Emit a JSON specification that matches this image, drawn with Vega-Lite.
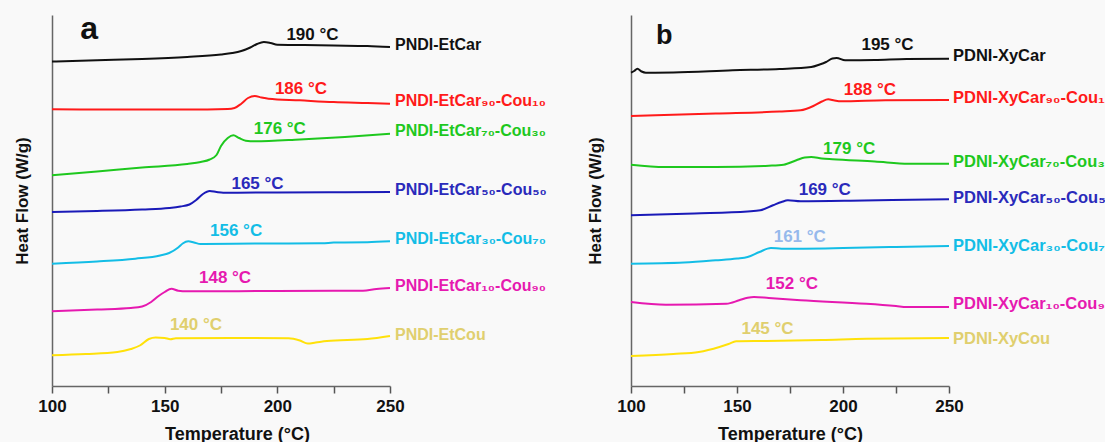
{
  "$schema": "https://vega.github.io/schema/vega-lite/v6.json",
  "background": "#f9f9f9",
  "padding": {"left": 13, "top": 13, "right": 0, "bottom": 0},
  "bounds": "flush",
  "spacing": 241,
  "config": {
    "font": "Liberation Sans",
    "view": {"stroke": null},
    "axis": {"grid": false, "domainColor": "#666666", "domainWidth": 1.5, "tickColor": "#555555", "tickWidth": 1.5, "labelFont": "Liberation Sans", "titleFont": "Liberation Sans", "labelFontWeight": "bold", "titleFontWeight": "bold", "labelColor": "#111111", "titleColor": "#111111", "labelFlush": false}
  },
  "datasets": {
    "curvesA": [
      {"s": "0", "T": 100, "hf": 324.5}, {"s": "0", "T": 120, "hf": 325.8}, {"s": "0", "T": 140, "hf": 327}, {"s": "0", "T": 160, "hf": 329}, {"s": "0", "T": 175, "hf": 331.5}, {"s": "0", "T": 180, "hf": 333}, {"s": "0", "T": 184, "hf": 335}, {"s": "0", "T": 188, "hf": 338.5}, {"s": "0", "T": 191, "hf": 342}, {"s": "0", "T": 194, "hf": 344}, {"s": "0", "T": 197, "hf": 343}, {"s": "0", "T": 200, "hf": 341.3}, {"s": "0", "T": 212, "hf": 341}, {"s": "0", "T": 225, "hf": 340.5}, {"s": "0", "T": 240, "hf": 340}, {"s": "0", "T": 250, "hf": 339},
      {"s": "10", "T": 100, "hf": 276.7}, {"s": "10", "T": 130, "hf": 276.5}, {"s": "10", "T": 160, "hf": 276.5}, {"s": "10", "T": 178, "hf": 277}, {"s": "10", "T": 181, "hf": 278}, {"s": "10", "T": 184, "hf": 282.3}, {"s": "10", "T": 187, "hf": 288}, {"s": "10", "T": 190, "hf": 290}, {"s": "10", "T": 193, "hf": 288.5}, {"s": "10", "T": 196, "hf": 287.3}, {"s": "10", "T": 210, "hf": 285.7}, {"s": "10", "T": 225, "hf": 284}, {"s": "10", "T": 240, "hf": 283}, {"s": "10", "T": 250, "hf": 282.3},
      {"s": "30", "T": 100, "hf": 210.7}, {"s": "30", "T": 120, "hf": 214.5}, {"s": "30", "T": 140, "hf": 218.5}, {"s": "30", "T": 160, "hf": 222}, {"s": "30", "T": 166, "hf": 224}, {"s": "30", "T": 170, "hf": 226.5}, {"s": "30", "T": 173, "hf": 231}, {"s": "30", "T": 175, "hf": 240}, {"s": "30", "T": 178, "hf": 248}, {"s": "30", "T": 180.5, "hf": 250.7}, {"s": "30", "T": 183, "hf": 248}, {"s": "30", "T": 186, "hf": 245.3}, {"s": "30", "T": 190, "hf": 244.7}, {"s": "30", "T": 210, "hf": 246.5}, {"s": "30", "T": 230, "hf": 249}, {"s": "30", "T": 250, "hf": 252.3},
      {"s": "50", "T": 100, "hf": 174}, {"s": "50", "T": 120, "hf": 175}, {"s": "50", "T": 140, "hf": 176.5}, {"s": "50", "T": 152, "hf": 178}, {"s": "50", "T": 157, "hf": 179.5}, {"s": "50", "T": 161, "hf": 181.5}, {"s": "50", "T": 164, "hf": 186}, {"s": "50", "T": 167, "hf": 192}, {"s": "50", "T": 170, "hf": 195}, {"s": "50", "T": 173, "hf": 194}, {"s": "50", "T": 176, "hf": 193.3}, {"s": "50", "T": 200, "hf": 193.5}, {"s": "50", "T": 230, "hf": 193.7}, {"s": "50", "T": 250, "hf": 194},
      {"s": "70", "T": 100, "hf": 122.3}, {"s": "70", "T": 120, "hf": 124.5}, {"s": "70", "T": 137, "hf": 127.3}, {"s": "70", "T": 148, "hf": 130.5}, {"s": "70", "T": 152, "hf": 133}, {"s": "70", "T": 156, "hf": 138.5}, {"s": "70", "T": 158, "hf": 142.5}, {"s": "70", "T": 160.5, "hf": 144.7}, {"s": "70", "T": 163, "hf": 143.5}, {"s": "70", "T": 166, "hf": 142}, {"s": "70", "T": 190, "hf": 142.5}, {"s": "70", "T": 220, "hf": 142.7}, {"s": "70", "T": 225, "hf": 143.5}, {"s": "70", "T": 240, "hf": 143.8}, {"s": "70", "T": 250, "hf": 144.7},
      {"s": "90", "T": 100, "hf": 74.7}, {"s": "90", "T": 120, "hf": 76.5}, {"s": "90", "T": 135, "hf": 78}, {"s": "90", "T": 140, "hf": 79.5}, {"s": "90", "T": 144, "hf": 84}, {"s": "90", "T": 147, "hf": 89.5}, {"s": "90", "T": 150, "hf": 94}, {"s": "90", "T": 153, "hf": 97.3}, {"s": "90", "T": 156, "hf": 95.3}, {"s": "90", "T": 160, "hf": 94.7}, {"s": "90", "T": 200, "hf": 95}, {"s": "90", "T": 238, "hf": 95.3}, {"s": "90", "T": 244, "hf": 97}, {"s": "90", "T": 250, "hf": 98},
      {"s": "100", "T": 100, "hf": 30.7}, {"s": "100", "T": 115, "hf": 32}, {"s": "100", "T": 129, "hf": 34}, {"s": "100", "T": 135, "hf": 37}, {"s": "100", "T": 139, "hf": 40.5}, {"s": "100", "T": 143, "hf": 47}, {"s": "100", "T": 146, "hf": 48.5}, {"s": "100", "T": 150, "hf": 48}, {"s": "100", "T": 152.5, "hf": 46.8}, {"s": "100", "T": 155, "hf": 47.8}, {"s": "100", "T": 180, "hf": 48}, {"s": "100", "T": 205, "hf": 47.8}, {"s": "100", "T": 210, "hf": 45.5}, {"s": "100", "T": 213.5, "hf": 42.5}, {"s": "100", "T": 217, "hf": 43.5}, {"s": "100", "T": 222, "hf": 45}, {"s": "100", "T": 240, "hf": 47}, {"s": "100", "T": 250, "hf": 50}
    ],
    "namesA": [
      {"s": "0", "name": "PNDI-EtCar", "T": 250, "hf": 340.7},
      {"s": "10", "name": "PNDI-EtCar₉₀-Cou₁₀", "T": 250, "hf": 285},
      {"s": "30", "name": "PNDI-EtCar₇₀-Cou₃₀", "T": 250, "hf": 255.3},
      {"s": "50", "name": "PNDI-EtCar₅₀-Cou₅₀", "T": 250, "hf": 196.3},
      {"s": "70", "name": "PNDI-EtCar₃₀-Cou₇₀", "T": 250, "hf": 146.7},
      {"s": "90", "name": "PNDI-EtCar₁₀-Cou₉₀", "T": 250, "hf": 99.7},
      {"s": "100", "name": "PNDI-EtCou", "T": 250, "hf": 51.3}
    ],
    "tgA": [
      {"s": "0", "tg": "190 °C", "T": 215.6, "hf": 350.7},
      {"s": "10", "tg": "186 °C", "T": 210.5, "hf": 297.3},
      {"s": "30", "tg": "176 °C", "T": 201.1, "hf": 257.3},
      {"s": "50", "tg": "165 °C", "T": 191.2, "hf": 202.3},
      {"s": "70", "tg": "156 °C", "T": 181.7, "hf": 154.7},
      {"s": "90", "tg": "148 °C", "T": 176.8, "hf": 108},
      {"s": "100", "tg": "140 °C", "T": 163.9, "hf": 61.3}
    ],
    "curvesB": [
      {"s": "0", "T": 100, "hf": 313.3}, {"s": "0", "T": 101.5, "hf": 315}, {"s": "0", "T": 103, "hf": 317.3}, {"s": "0", "T": 105, "hf": 314.5}, {"s": "0", "T": 107, "hf": 313.3}, {"s": "0", "T": 120, "hf": 313.5}, {"s": "0", "T": 148, "hf": 315.7}, {"s": "0", "T": 170, "hf": 317}, {"s": "0", "T": 185, "hf": 319}, {"s": "0", "T": 189, "hf": 321.5}, {"s": "0", "T": 192, "hf": 324}, {"s": "0", "T": 195, "hf": 327.5}, {"s": "0", "T": 197, "hf": 328}, {"s": "0", "T": 201, "hf": 325.7}, {"s": "0", "T": 215, "hf": 326}, {"s": "0", "T": 230, "hf": 327}, {"s": "0", "T": 250, "hf": 327.3},
      {"s": "10", "T": 100, "hf": 270}, {"s": "10", "T": 140, "hf": 272.5}, {"s": "10", "T": 170, "hf": 274.5}, {"s": "10", "T": 180, "hf": 275.7}, {"s": "10", "T": 186, "hf": 280}, {"s": "10", "T": 190, "hf": 284.5}, {"s": "10", "T": 193, "hf": 286.7}, {"s": "10", "T": 196, "hf": 285.5}, {"s": "10", "T": 199, "hf": 284.7}, {"s": "10", "T": 220, "hf": 285.7}, {"s": "10", "T": 250, "hf": 286},
      {"s": "30", "T": 100, "hf": 221.3}, {"s": "30", "T": 116, "hf": 219}, {"s": "30", "T": 140, "hf": 219}, {"s": "30", "T": 165, "hf": 220.3}, {"s": "30", "T": 172, "hf": 221.3}, {"s": "30", "T": 178, "hf": 225.7}, {"s": "30", "T": 182, "hf": 228.5}, {"s": "30", "T": 185, "hf": 229}, {"s": "30", "T": 190, "hf": 227.5}, {"s": "30", "T": 195, "hf": 226.7}, {"s": "30", "T": 215, "hf": 224.5}, {"s": "30", "T": 231, "hf": 222.3}, {"s": "30", "T": 250, "hf": 222.3},
      {"s": "50", "T": 100, "hf": 170.7}, {"s": "50", "T": 130, "hf": 172.5}, {"s": "50", "T": 155, "hf": 174.5}, {"s": "50", "T": 161, "hf": 175.7}, {"s": "50", "T": 167, "hf": 180.7}, {"s": "50", "T": 171, "hf": 184}, {"s": "50", "T": 174, "hf": 185.7}, {"s": "50", "T": 180, "hf": 184.7}, {"s": "50", "T": 210, "hf": 185.5}, {"s": "50", "T": 250, "hf": 186.7},
      {"s": "70", "T": 100, "hf": 122.3}, {"s": "70", "T": 125, "hf": 123.5}, {"s": "70", "T": 140, "hf": 125.7}, {"s": "70", "T": 150, "hf": 127.5}, {"s": "70", "T": 155, "hf": 129}, {"s": "70", "T": 160.6, "hf": 134}, {"s": "70", "T": 166, "hf": 138}, {"s": "70", "T": 171, "hf": 137.3}, {"s": "70", "T": 200, "hf": 138}, {"s": "70", "T": 225, "hf": 139}, {"s": "70", "T": 250, "hf": 140},
      {"s": "90", "T": 100, "hf": 84}, {"s": "90", "T": 116.5, "hf": 81.3}, {"s": "90", "T": 145, "hf": 82.3}, {"s": "90", "T": 151, "hf": 85.7}, {"s": "90", "T": 155, "hf": 88.2}, {"s": "90", "T": 158, "hf": 89}, {"s": "90", "T": 165, "hf": 88}, {"s": "90", "T": 180, "hf": 85.7}, {"s": "90", "T": 211, "hf": 82.3}, {"s": "90", "T": 225, "hf": 80}, {"s": "90", "T": 230, "hf": 79}, {"s": "90", "T": 250, "hf": 79},
      {"s": "100", "T": 100, "hf": 30}, {"s": "100", "T": 120, "hf": 32}, {"s": "100", "T": 132, "hf": 34}, {"s": "100", "T": 141.7, "hf": 39}, {"s": "100", "T": 146, "hf": 42}, {"s": "100", "T": 149.6, "hf": 44.7}, {"s": "100", "T": 164, "hf": 45}, {"s": "100", "T": 190, "hf": 46}, {"s": "100", "T": 211, "hf": 47.3}, {"s": "100", "T": 250, "hf": 48}
    ],
    "namesB": [
      {"s": "0", "name": "PDNI-XyCar", "T": 250, "hf": 329.7},
      {"s": "10", "name": "PDNI-XyCar₉₀-Cou₁₀", "T": 250, "hf": 288},
      {"s": "30", "name": "PDNI-XyCar₇₀-Cou₃₀", "T": 250, "hf": 224},
      {"s": "50", "name": "PDNI-XyCar₅₀-Cou₅₀", "T": 250, "hf": 188},
      {"s": "70", "name": "PDNI-XyCar₃₀-Cou₇₀", "T": 250, "hf": 140},
      {"s": "90", "name": "PDNI-XyCar₁₀-Cou₉₀", "T": 250, "hf": 82.3},
      {"s": "100", "name": "PDNI-XyCou", "T": 250, "hf": 47.3}
    ],
    "tgB": [
      {"s": "0", "tg": "195 °C", "T": 221, "hf": 340.7},
      {"s": "10", "tg": "188 °C", "T": 212.7, "hf": 295.7},
      {"s": "30", "tg": "179 °C", "T": 202.9, "hf": 237.3},
      {"s": "50", "tg": "169 °C", "T": 191.4, "hf": 195.7},
      {"s": "70", "tg": "161 °C", "T": 179.6, "hf": 149},
      {"s": "90", "tg": "152 °C", "T": 175.9, "hf": 102.3},
      {"s": "100", "tg": "145 °C", "T": 164.4, "hf": 57.3}
    ]
  },
  "hconcat": [
    {
      "width": 338,
      "height": 371,
      "layer": [
        {
          "data": {"name": "curvesA"},
          "mark": {"type": "line", "strokeWidth": 2, "interpolate": "monotone"},
          "encoding": {
            "x": {"field": "T", "type": "quantitative", "scale": {"domain": [100, 250], "nice": false, "zero": false},
                  "axis": {"values": [100, 125, 150, 175, 200, 225, 250], "labelExpr": "datum.value % 50 == 0 ? datum.label : ''", "tickSize": 7, "labelPadding": 5, "labelFontSize": 17, "title": "Temperature (°C)", "titleFontSize": 18, "titlePadding": 11, "titleX": 185}},
            "y": {"field": "hf", "type": "quantitative", "scale": {"domain": [0, 371], "nice": false, "zero": false},
                  "axis": {"labels": false, "ticks": false, "title": "Heat Flow (W/g)", "titleFontSize": 17, "titlePadding": 21}},
            "color": {"field": "s", "type": "nominal", "legend": null,
                      "scale": {"domain": ["0", "10", "30", "50", "70", "90", "100"], "range": ["#111111", "#ff1a1a", "#1ec81e", "#1a1ab8", "#13bde6", "#e619b0", "#ffe10a"]}}
          }
        },
        {
          "data": {"name": "namesA"},
          "mark": {"type": "text", "align": "left", "baseline": "middle", "dx": 5, "fontSize": 16, "fontWeight": "bold"},
          "encoding": {
            "x": {"field": "T", "type": "quantitative"},
            "y": {"field": "hf", "type": "quantitative"},
            "text": {"field": "name"},
            "color": {"field": "s", "type": "nominal", "legend": null,
                      "scale": {"domain": ["0", "10", "30", "50", "70", "90", "100"], "range": ["#111111", "#ff1a1a", "#1ec81e", "#2a2abb", "#13bde6", "#e619b0", "#e0cf6e"]}}
          }
        },
        {
          "data": {"name": "tgA"},
          "mark": {"type": "text", "align": "center", "baseline": "middle", "fontSize": 17, "fontWeight": "bold"},
          "encoding": {
            "x": {"field": "T", "type": "quantitative"},
            "y": {"field": "hf", "type": "quantitative"},
            "text": {"field": "tg"},
            "color": {"field": "s", "type": "nominal", "legend": null,
                      "scale": {"domain": ["0", "10", "30", "50", "70", "90", "100"], "range": ["#111111", "#ff1a1a", "#1ec81e", "#2a2abb", "#13bde6", "#e619b0", "#e0cf6e"]}}
          }
        },
        {
          "data": {"values": [{"panel": "a", "T": 116.5, "hf": 347}]},
          "mark": {"type": "text", "align": "center", "baseline": "alphabetic", "fontSize": 32, "fontWeight": "bold", "color": "#111111"},
          "encoding": {
            "x": {"field": "T", "type": "quantitative"},
            "y": {"field": "hf", "type": "quantitative"},
            "text": {"field": "panel"}
          }
        }
      ],
      "resolve": {"scale": {"color": "independent"}}
    },
    {
      "width": 318,
      "height": 371,
      "layer": [
        {
          "data": {"name": "curvesB"},
          "mark": {"type": "line", "strokeWidth": 2, "interpolate": "monotone"},
          "encoding": {
            "x": {"field": "T", "type": "quantitative", "scale": {"domain": [100, 250], "nice": false, "zero": false},
                  "axis": {"values": [100, 125, 150, 175, 200, 225, 250], "labelExpr": "datum.value % 50 == 0 ? datum.label : ''", "tickSize": 7, "labelPadding": 5, "labelFontSize": 17, "title": "Temperature (°C)", "titleFontSize": 18, "titlePadding": 11}},
            "y": {"field": "hf", "type": "quantitative", "scale": {"domain": [0, 371], "nice": false, "zero": false},
                  "axis": {"labels": false, "ticks": false, "title": "Heat Flow (W/g)", "titleFontSize": 17, "titlePadding": 27}},
            "color": {"field": "s", "type": "nominal", "legend": null,
                      "scale": {"domain": ["0", "10", "30", "50", "70", "90", "100"], "range": ["#111111", "#ff1a1a", "#1ec81e", "#1a1ab8", "#13bde6", "#e619b0", "#ffe10a"]}}
          }
        },
        {
          "data": {"name": "namesB"},
          "mark": {"type": "text", "align": "left", "baseline": "middle", "dx": 4, "fontSize": 16.5, "fontWeight": "bold"},
          "encoding": {
            "x": {"field": "T", "type": "quantitative"},
            "y": {"field": "hf", "type": "quantitative"},
            "text": {"field": "name"},
            "color": {"field": "s", "type": "nominal", "legend": null,
                      "scale": {"domain": ["0", "10", "30", "50", "70", "90", "100"], "range": ["#111111", "#ff1a1a", "#1ec81e", "#2a2abb", "#13bde6", "#e619b0", "#e0cf6e"]}}
          }
        },
        {
          "data": {"name": "tgB"},
          "mark": {"type": "text", "align": "center", "baseline": "middle", "fontSize": 17, "fontWeight": "bold"},
          "encoding": {
            "x": {"field": "T", "type": "quantitative"},
            "y": {"field": "hf", "type": "quantitative"},
            "text": {"field": "tg"},
            "color": {"field": "s", "type": "nominal", "legend": null,
                      "scale": {"domain": ["0", "10", "30", "50", "70", "90", "100"], "range": ["#111111", "#ff1a1a", "#1ec81e", "#2a2abb", "#96b9ec", "#e619b0", "#e0cf6e"]}}
          }
        },
        {
          "data": {"values": [{"panel": "b", "T": 115.7, "hf": 342.3}]},
          "mark": {"type": "text", "align": "center", "baseline": "alphabetic", "fontSize": 27, "fontWeight": "bold", "color": "#111111"},
          "encoding": {
            "x": {"field": "T", "type": "quantitative"},
            "y": {"field": "hf", "type": "quantitative"},
            "text": {"field": "panel"}
          }
        }
      ],
      "resolve": {"scale": {"color": "independent"}}
    }
  ]
}
